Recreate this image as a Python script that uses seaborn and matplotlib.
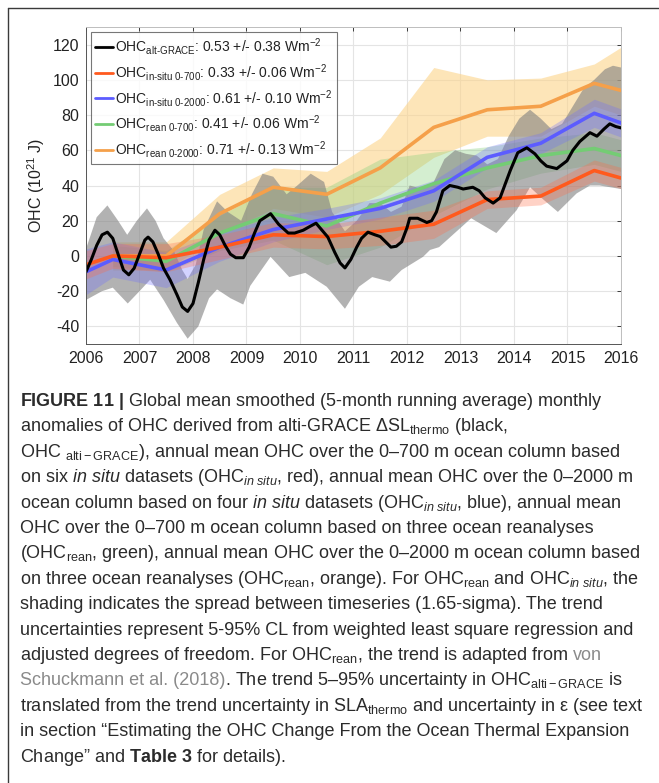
"""OHC anomalies 2006-2016: alti-GRACE vs in situ vs reanalyses, with caption."""
import matplotlib
matplotlib.use("Agg")
import matplotlib.pyplot as plt
from matplotlib.lines import Line2D
import numpy as np
import seaborn as sns

# ---------------------------------------------------------------- data
# alti-GRACE, 5-month smoothed monthly anomalies
grace_t = [2006.00, 2006.10, 2006.20, 2006.30, 2006.40, 2006.50, 2006.60, 2006.70, 2006.80, 2006.90,
           2007.00, 2007.10, 2007.16, 2007.25, 2007.35, 2007.45, 2007.57, 2007.70, 2007.80, 2007.90,
           2008.00, 2008.10, 2008.20, 2008.30, 2008.41, 2008.50, 2008.60, 2008.70, 2008.80, 2008.94,
           2009.05, 2009.15, 2009.25, 2009.45, 2009.60, 2009.78, 2009.90, 2010.06, 2010.20, 2010.30,
           2010.40, 2010.52, 2010.65, 2010.75, 2010.84, 2010.95, 2011.06, 2011.15, 2011.27, 2011.40,
           2011.50, 2011.60, 2011.70, 2011.80, 2011.90, 2012.00, 2012.05, 2012.20, 2012.37, 2012.46,
           2012.55, 2012.67, 2012.80, 2012.95, 2013.05, 2013.23, 2013.35, 2013.46, 2013.61, 2013.74,
           2013.85, 2013.93, 2014.07, 2014.24, 2014.39, 2014.50, 2014.61, 2014.80, 2014.99, 2015.10,
           2015.23, 2015.42, 2015.55, 2015.68, 2015.79, 2015.90, 2016.00]
grace_v = [-9, -2, 6, 12, 13.5, 10, 1, -8, -10.7, -7,
           1, 9, 10.7, 8, 1, -7, -13.5, -22, -29, -31.5,
           -27, -15, -2, 9, 14.6, 12, 6, 1, -1, -1,
           5, 13, 20, 24, 18, 13, 13, 14.6, 17, 18.6,
           15, 10.7, 2, -4, -6.8, -2, 5, 10, 13.5, 12,
           11, 8, 5, 5.5, 8, 16, 21.4, 21.4, 19, 20,
           25, 37, 40, 39, 38, 39, 37, 33, 30, 33,
           42, 48.5, 58.6, 61.4, 58, 54, 51, 49.6, 54, 60,
           65, 70, 68, 72, 75, 73.5, 72.7]

# grey uncertainty envelope of alti-GRACE
grace_hi_t = [2006.0, 2006.2, 2006.4, 2006.6, 2006.77, 2006.95, 2007.14, 2007.3, 2007.45, 2007.64,
              2007.8, 2007.9, 2008.05, 2008.2, 2008.45, 2008.65, 2008.9, 2009.1, 2009.3, 2009.5,
              2009.75, 2009.95, 2010.2, 2010.45, 2010.6, 2010.84, 2011.06, 2011.3, 2011.5, 2011.7,
              2011.9, 2012.05, 2012.3, 2012.5, 2012.7, 2012.9, 2013.1, 2013.3, 2013.5, 2013.7,
              2013.9, 2014.1, 2014.3, 2014.5, 2014.7, 2014.9, 2015.1, 2015.3, 2015.5, 2015.7,
              2015.85, 2016.0]
grace_hi_v = [4, 22, 28.7, 20, 12, 20, 27, 20, 10, 3,
              -8, -13, -5, 15, 31, 25, 20, 35, 46.7, 45,
              35, 40, 46.7, 42, 25, 14, 20, 30, 30, 25,
              28, 40, 38, 42, 55, 60, 58, 57, 52, 55,
              68, 78, 83, 78, 72, 75, 85, 95, 100, 106,
              108, 107]
grace_lo_t = [2006.0, 2006.3, 2006.5, 2006.78, 2007.0, 2007.2, 2007.45, 2007.7, 2007.9, 2008.1,
              2008.3, 2008.45, 2008.7, 2008.94, 2009.07, 2009.45, 2009.8, 2010.1, 2010.5, 2010.84,
              2011.1, 2011.35, 2011.68, 2011.9, 2012.3, 2012.43, 2012.6, 2013.2, 2013.67, 2014.05,
              2014.3, 2014.55, 2014.82, 2015.17, 2015.42, 2015.6, 2016.0]
grace_lo_v = [-25, -20, -18, -27, -20, -13.5, -25, -38, -47, -40,
              -24, -19, -24, -27.6, -17, -0.5, -12, -9.6, -17.5, -30,
              -17.5, -12, -14.6, -8, -0.5, 3.4, 5, 21.4, 13, 26,
              39, 32, 25, 35.5, 40, 40, 38]

# annual means (plotted mid-year)
insitu_t = [2006.0, 2006.5, 2007.5, 2008.5, 2009.5, 2010.5, 2011.5, 2012.5, 2013.5, 2014.5, 2015.5, 2016.5]
insitu700 = [-5, 0, -1, 5, 12, 11, 14, 18, 32, 34, 48.5, 40]
insitu700_err = [8, 7, 8, 7, 7, 7, 8, 8, 5, 5, 6, 6]
insitu2000 = [-9, -2, -8, 5, 15, 21, 27, 37, 56, 64, 81, 70]
insitu2000_err = [13, 10, 10, 8, 7, 6, 6, 6, 6, 6, 8, 8]

rean_t = [2006.5, 2007.5, 2008.5, 2009.5, 2010.5, 2011.5, 2012.5, 2013.5, 2014.5, 2015.5, 2016.5]
rean700 = [0, -3, 13, 24, 17, 30, 41, 50, 57, 61, 53]
rean700_err = [6, 6, 10, 15, 22, 25, 18, 12, 10, 9, 9]
rean2000 = [0, 0, 24, 39, 35, 50, 73, 83, 85, 98, 90]
rean2000_lo = [-8, -8, 12, 27, 22, 35, 56, 68, 68, 85, 75]
rean2000_hi = [8, 8, 35, 50, 48, 67, 107, 100, 101, 109, 128]

labels = [
    r"OHC$_{\text{alt-GRACE}}$: 0.53 +/- 0.38 Wm$^{-2}$",
    r"OHC$_{\text{in-situ 0-700}}$: 0.33 +/- 0.06 Wm$^{-2}$",
    r"OHC$_{\text{in-situ 0-2000}}$: 0.61 +/- 0.10 Wm$^{-2}$",
    r"OHC$_{\text{rean 0-700}}$: 0.41 +/- 0.06 Wm$^{-2}$",
    r"OHC$_{\text{rean 0-2000}}$: 0.71 +/- 0.13 Wm$^{-2}$",
]

caption = [
    [(r"$\bf{FIGURE\ 11\ |}$ Global mean smoothed (5-month running average) monthly", "k")],
    [(r"anomalies of OHC derived from alti-GRACE ΔSL$_{\rm thermo}$ (black,", "k")],
    [(r"OHC $_{\rm alti-GRACE}$), annual mean OHC over the 0–700 m ocean column based", "k")],
    [(r"on six $\it{in\ situ}$ datasets (OHC$_{\it{in\ situ}}$, red), annual mean OHC over the 0–2000 m", "k")],
    [(r"ocean column based on four $\it{in\ situ}$ datasets (OHC$_{\it{in\ situ}}$, blue), annual mean", "k")],
    [(r"OHC over the 0–700 m ocean column based on three ocean reanalyses", "k")],
    [(r"(OHC$_{\rm rean}$, green), annual mean OHC over the 0–2000 m ocean column based", "k")],
    [(r"on three ocean reanalyses (OHC$_{\rm rean}$, orange). For OHC$_{\rm rean}$ and OHC$_{\it{in\ situ}}$, the", "k")],
    [(r"shading indicates the spread between timeseries (1.65-sigma). The trend", "k")],
    [(r"uncertainties represent 5-95% CL from weighted least square regression and", "k")],
    [(r"adjusted degrees of freedom. For OHC$_{\rm rean}$, the trend is adapted from", "k"), (" von", "#8a8a8a")],
    [(r"Schuckmann et al. (2018)", "#8a8a8a"),
     (r". The trend 5–95% uncertainty in OHC$_{\rm alti-GRACE}$ is", "k")],
    [(r"translated from the trend uncertainty in SLA$_{\rm thermo}$ and uncertainty in ε (see text", "k")],
    [(r"in section “Estimating the OHC Change From the Ocean Thermal Expansion", "k")],
    [(r"Change” and $\bf{Table\ 3}$ for details).", "k")],
]

# ---------------------------------------------------------------- style
sns.set_theme(style="white")
plt.rcParams["font.family"] = ["Liberation Sans", "DejaVu Sans"]
plt.rcParams["mathtext.fontset"] = "custom"
plt.rcParams["mathtext.rm"] = "Liberation Sans"
plt.rcParams["mathtext.it"] = "Liberation Sans:italic"
plt.rcParams["mathtext.bf"] = "Liberation Sans:bold"
plt.rcParams["mathtext.default"] = "regular"
plt.rcParams["axes.unicode_minus"] = False

W, H = 659, 783
fig = plt.figure(figsize=(W / 100, H / 100), dpi=100)
ax = fig.add_axes([86 / W, 1 - 344 / H, 535 / W, 317 / H])

# bands
ax.fill_between(rean_t, rean2000_lo, rean2000_hi, color="#fcd48a", alpha=0.6, lw=0)
ax.fill_between(rean_t, np.subtract(rean700, rean700_err), np.add(rean700, rean700_err),
                color="#86cf7a", alpha=0.35, lw=0)
ax.fill(np.concatenate([grace_hi_t, grace_lo_t[::-1]]),
        np.concatenate([grace_hi_v, grace_lo_v[::-1]]),
        color="#808080", alpha=0.6, lw=0)
ax.fill_between(insitu_t, np.subtract(insitu2000, insitu2000_err), np.add(insitu2000, insitu2000_err),
                color="#6e6eff", alpha=0.3, lw=0)
ax.fill_between(insitu_t, np.subtract(insitu700, insitu700_err), np.add(insitu700, insitu700_err),
                color="#ff6a45", alpha=0.3, lw=0)

# lines
colors = ["black", "#ff5a1e", "#5c5cff", "#74cc74", "#f5a04a"]
series = [(rean_t, rean2000, 4), (rean_t, rean700, 3), (insitu_t, insitu2000, 2),
          (insitu_t, insitu700, 1), (grace_t, grace_v, 0)]
handles = [None] * 5
for xs, ys, i in series:
    sns.lineplot(x=xs, y=ys, color=colors[i], lw=2.6 if i else 2.2, ax=ax,
                 estimator=None, sort=False)
    handles[i] = Line2D([], [], color=colors[i], lw=2.0)

ax.set_xlim(2006, 2016)
ax.set_ylim(-50, 130)
ax.set_xticks(range(2006, 2017))
ax.set_yticks(range(-40, 121, 20))
ax.grid(True, color="#e4e4e4", lw=0.8)
ax.set_axisbelow(True)
ax.tick_params(direction="in", length=3, width=0.6, labelsize=11.5, colors="#222222",
               top=True, right=True, pad=5)
for s in ax.spines.values():
    s.set_color("#bdbdbd")
    s.set_linewidth(0.7)
ax.spines["left"].set_color("#555555")
ax.spines["bottom"].set_color("#555555")
ax.set_ylabel(r"OHC (10$^{21}$ J)", fontsize=11.5, color="#222222", labelpad=4)

leg = ax.legend(handles, labels, loc="upper left", bbox_to_anchor=(0.009, 0.984),
                borderaxespad=0, fontsize=10, handlelength=1.3, handletextpad=0.15,
                labelspacing=0.34, borderpad=0.3, frameon=True, fancybox=False)
leg.get_frame().set_edgecolor("#555555")
leg.get_frame().set_linewidth(0.8)
for t in leg.get_texts():
    t.set_color("#222222")

# figure border (left and top)
fig.add_artist(Line2D([7.5 / W, 7.5 / W], [0, 1 - 8 / H], transform=fig.transFigure,
                      color="#3a3a3a", lw=1.0))
fig.add_artist(Line2D([7.5 / W, 1], [1 - 8 / H, 1 - 8 / H], transform=fig.transFigure,
                      color="#3a3a3a", lw=1.0))

# caption, one text line at a time
cap_fs = 13.0
renderer = fig.canvas.get_renderer()
space_px = 0.278 * cap_fs * 100 / 72
for i, parts in enumerate(caption):
    x = 20
    y = 1 - (406 + i * 25.4) / H
    for txt, col in parts:
        if txt.startswith(" "):
            x += space_px
            txt = txt.lstrip()
        if col == "k":
            col = "#2b2b2b"
        t = fig.text(x / W, y, txt, color=col, fontsize=cap_fs, va="baseline", ha="left")
        x += t.get_window_extent(renderer).width

fig.savefig("out.png", dpi=100)
